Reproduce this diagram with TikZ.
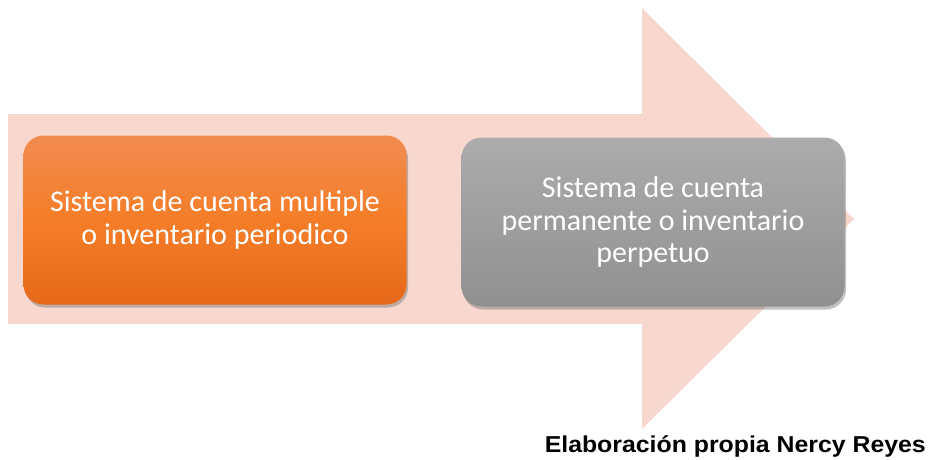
\documentclass[tikz,border=0pt]{standalone}
\usepackage{fontspec}
\setmainfont{Carlito}
\newfontfamily\footfont{Liberation Sans}
\usetikzlibrary{shadows}
\definecolor{arrowfill}{RGB}{248,216,206}
\definecolor{orangetop}{RGB}{240,140,80}
\definecolor{orangemid}{RGB}{245,125,40}
\definecolor{orangebot}{RGB}{230,105,25}
\definecolor{graytop}{RGB}{172,172,172}
\definecolor{graybot}{RGB}{144,144,144}
\tikzset{
  stepbox/.style={rounded corners=20pt, minimum width=383pt, minimum height=169pt,
    align=center, text=white, inner sep=0pt,
    font=\fontsize{30}{32.5}\selectfont,
    drop shadow={opacity=0.4, shadow xshift=1.5pt, shadow yshift=-3pt, fill=black!60}},
  orangebox/.style={stepbox, top color=orangetop, bottom color=orangebot, middle color=orangemid},
  graybox/.style={stepbox, top color=graytop, bottom color=graybot},
  bigarrow/.style={fill=arrowfill, draw=none}
}
\begin{document}
\begin{tikzpicture}[x=1pt,y=-1pt]
\useasboundingbox (0,0) rectangle (933,459);
\fill[white] (0,0) rectangle (933,459);
\filldraw[bigarrow] (8,114) -- (642,114) -- (642,8) -- (854,219) -- (642,429) -- (642,324) -- (8,324) -- cycle;
\node[orangebox] (a) at (215,220) {Sistema de cuenta multiple\\o inventario periodico};
\node[graybox] (b) at (653,222) {Sistema de cuenta\\permanente o inventario\\perpetuo};
\node[anchor=base east, font=\footfont\bfseries\fontsize{23}{25}\selectfont, inner sep=0pt] (c) at (926,452.5) {\scalebox{1.08}[1]{Elaboración propia Nercy Reyes}};
\end{tikzpicture}
\end{document}
